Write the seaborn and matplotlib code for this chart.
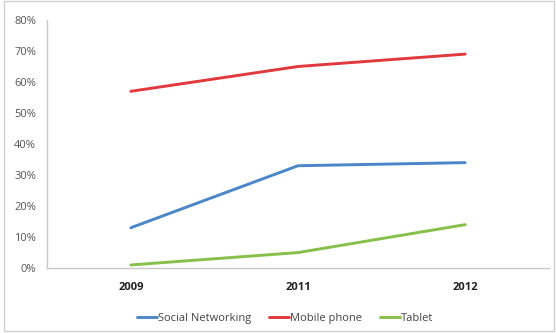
import matplotlib
matplotlib.use("Agg")
import matplotlib.pyplot as plt
import matplotlib.ticker as mticker
from matplotlib.patches import Rectangle
import pandas as pd
import seaborn as sns

years = ["2009", "2011", "2012"]
social_networking = [13, 33, 34]
mobile_phone = [57, 65, 69]
tablet = [1, 5, 14]
series_names = ["Social Networking", "Mobile phone", "Tablet"]
colors = ["#4A86C8", "#E0393E", "#86C04A"]

rows = []
for name, vals in zip(series_names, [social_networking, mobile_phone, tablet]):
    for y, v in zip(years, vals):
        rows.append({"Year": y, "Share": v / 100.0, "Series": name})
df = pd.DataFrame(rows)

sns.set_style("white")
plt.rcParams["font.family"] = ["Open Sans", "DejaVu Sans"]

fig = plt.figure(figsize=(5.56, 3.33), dpi=100)
ax = fig.add_axes([0.085, 0.195, 0.902, 0.745])

sns.lineplot(data=df, x="Year", y="Share", hue="Series", hue_order=series_names,
             palette=colors, linewidth=2.1, sort=False, ax=ax)

ax.set_xlim(-0.5, 2.5)
ax.set_ylim(0, 0.8)
ax.yaxis.set_major_locator(mticker.MultipleLocator(0.1))
ax.yaxis.set_major_formatter(mticker.PercentFormatter(1.0, decimals=0))
ax.set_xlabel("")
ax.set_ylabel("")

for side in ["top", "right"]:
    ax.spines[side].set_visible(False)
for side in ["left", "bottom"]:
    ax.spines[side].set_color("#c8c8c8")
    ax.spines[side].set_linewidth(1.0)

ax.tick_params(axis="y", length=0, pad=8, labelsize=8, labelcolor="#555555")
ax.tick_params(axis="x", length=0, pad=10, labelsize=8, labelcolor="#222222")
for lbl in ax.get_xticklabels():
    lbl.set_fontweight("bold")

leg = ax.legend(loc="upper center", bbox_to_anchor=(0.475, -0.14), ncol=3,
                frameon=False, fontsize=8, handlelength=1.8, handletextpad=0.1,
                columnspacing=1.6)
for txt in leg.get_texts():
    txt.set_color("#444444")

fig.patches.append(Rectangle((0.008, 0.006), 0.988, 0.99, transform=fig.transFigure,
                             fill=False, edgecolor="#d0d0d0", linewidth=1.0))

fig.savefig("out.png", dpi=100)
